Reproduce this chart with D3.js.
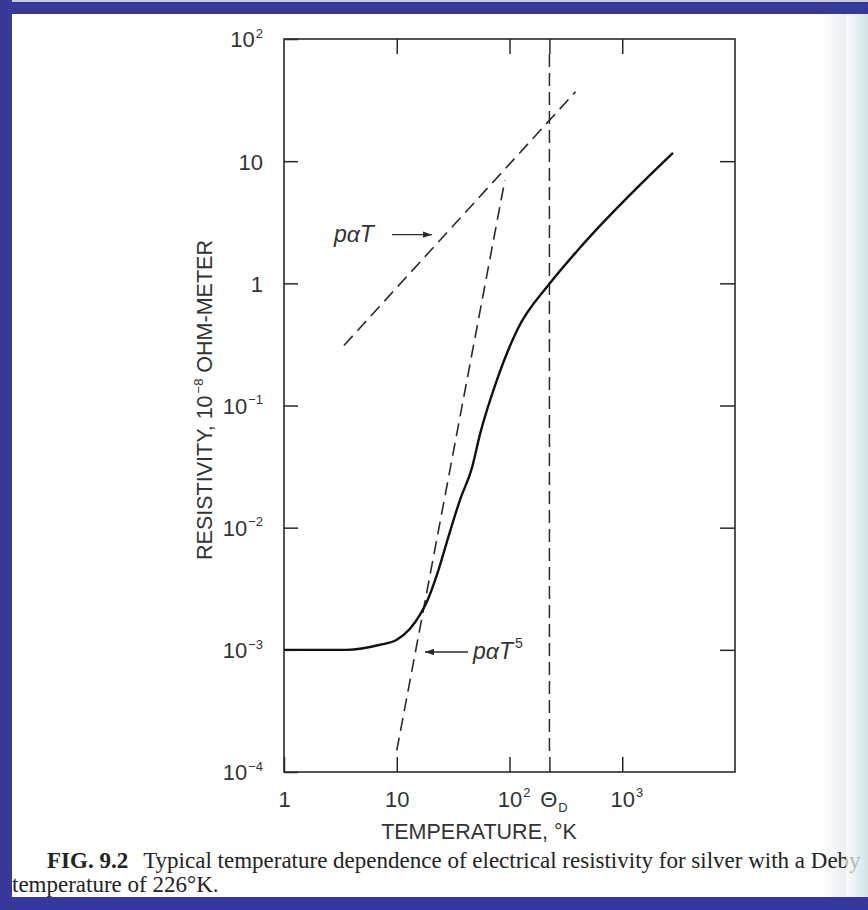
<!DOCTYPE html>
<html>
<head>
<meta charset="utf-8">
<script src="https://cdn.jsdelivr.net/npm/d3@7"></script>
<style>
  body { margin: 0; background: #fff; }
  svg { display: block; }
</style>
</head>
<body>
<svg id="fig" width="868" height="910"></svg>
<script>
// Resistivity of silver vs temperature (log-log)

// solid curve
const curveT   = [1, 3.6, 7.1, 10, 13.1, 16.1, 18.5, 22.7, 27.9, 36.4, 46.5, 54.7, 77.4, 117, 228, 400, 633, 1437, 2820];
const curveRho = [1.0e-3, 1.0e-3, 1.1e-3, 1.21e-3, 1.49e-3, 1.94e-3, 2.47e-3, 4.1e-3, 7.7e-3, 0.0169, 0.031, 0.058, 0.162, 0.415, 1.0, 1.85, 2.95, 6.4, 11.7];

// dashed asymptotes (end points)
const linearT   = [3.4, 385];
const linearRho = [0.31, 37];
const fifthT    = [10, 91];
const fifthRho  = [1.5e-4, 7.0];

const thetaD = 226;

// ticks
const xTickVals   = [1, 10, 100, thetaD, 1000];
const xTickLabels = [["1", ""], ["10", ""], ["10", "2"], ["\u0398", "D"], ["10", "3"]];
const yTickVals   = [1e2, 10, 1, 1e-1, 1e-2, 1e-3, 1e-4];
const yTickLabels = [["10", "2"], ["10", ""], ["1", ""], ["10", "\u22121"], ["10", "\u22122"], ["10", "\u22123"], ["10", "\u22124"]];

const svg = d3.select("#fig");
const W = 868, H = 910;
const blue = "#36399a";
const ink = "#2a2a2a";
const sans = "'Liberation Sans', Arial, sans-serif";

// page background + scan edge shading on the right
const defs = svg.append("defs");
const grad = defs.append("linearGradient").attr("id", "edge").attr("x1", 0).attr("x2", 1);
grad.append("stop").attr("offset", 0).attr("stop-color", "#ffffff");
grad.append("stop").attr("offset", 1).attr("stop-color", "#d4e3e8");
svg.append("rect").attr("width", W).attr("height", H).attr("fill", "#fff");
svg.append("rect").attr("x", 820).attr("y", 0).attr("width", W - 820).attr("height", H).attr("fill", "url(#edge)");

// blue frame (top, left)
svg.append("rect").attr("x", 0).attr("y", 0).attr("width", W).attr("height", 2).attr("fill", "#c9cbe3");
svg.append("rect").attr("x", 0).attr("y", 2).attr("width", W).attr("height", 12).attr("fill", blue);
svg.append("rect").attr("x", 0).attr("y", 0).attr("width", 12).attr("height", H).attr("fill", blue);

// plot box
const plot = { left: 284, right: 735, top: 39, bottom: 772 };

const x = d3.scaleLog().domain([1, 1e4]).range([plot.left, plot.right]);
const y = d3.scaleLog().domain([1e-4, 1e2]).range([plot.bottom, plot.top]);

const g = svg.append("g");

// frame
g.append("rect")
  .attr("x", plot.left).attr("y", plot.top)
  .attr("width", plot.right - plot.left).attr("height", plot.bottom - plot.top)
  .attr("fill", "none").attr("stroke", ink).attr("stroke-width", 1.6);

function styleAxis(sel) {
  sel.select(".domain").remove();
  sel.selectAll(".tick line").attr("stroke", ink).attr("stroke-width", 1.5);
  sel.selectAll(".tick text").attr("fill", "#333").attr("font-family", sans).attr("font-size", 22);
}

// label with superscript / subscript
function richLabel(sel, labels, anchor) {
  sel.selectAll(".tick text").each(function (d, i) {
    const t = d3.select(this).text(null).attr("text-anchor", anchor);
    const [base, ex] = labels[i];
    t.append("tspan").text(base);
    if (ex) {
      const sub = base === "\u0398";
      t.append("tspan")
        .attr("font-size", 13)
        .attr("dx", 1)
        .attr("dy", sub ? "0.45em" : "-0.75em")
        .text(ex);
    }
  });
}

// bottom axis (inward ticks)
const xBottom = g.append("g").attr("transform", `translate(0,${plot.bottom})`)
  .call(d3.axisBottom(x).tickValues(xTickVals).tickSize(-15).tickPadding(19).tickFormat(""));
styleAxis(xBottom);
richLabel(xBottom, xTickLabels, "middle");
xBottom.selectAll(".tick text").each(function (d) {
  // shift so the main glyph sits centered on the tick
  if (d === 100 || d === 1000 || d === thetaD) d3.select(this).attr("dx", 4);
});

// top axis, ticks only
const xTop = g.append("g").attr("transform", `translate(0,${plot.top})`)
  .call(d3.axisTop(x).tickValues(xTickVals.slice(1)).tickSize(-15).tickFormat(""));
styleAxis(xTop);

// left axis
const yLeft = g.append("g").attr("transform", `translate(${plot.left},0)`)
  .call(d3.axisLeft(y).tickValues(yTickVals).tickSize(-14).tickPadding(21).tickFormat(""));
styleAxis(yLeft);
richLabel(yLeft, yTickLabels, "end");
yLeft.selectAll(".tick text").attr("dy", "0.36em");

// right axis, ticks only
const yRight = g.append("g").attr("transform", `translate(${plot.right},0)`)
  .call(d3.axisRight(y).tickValues(yTickVals.slice(1, -1)).tickSize(-15).tickFormat(""));
styleAxis(yRight);

// axis titles
g.append("text")
  .attr("x", 479).attr("y", 839)
  .attr("text-anchor", "middle")
  .attr("font-family", sans).attr("font-size", 21.5).attr("fill", "#333")
  .text("TEMPERATURE, \u00b0K");

const yTitle = g.append("text")
  .attr("transform", "translate(212,400) rotate(-90)")
  .attr("text-anchor", "middle")
  .attr("font-family", sans).attr("font-size", 21.5).attr("fill", "#333");
yTitle.append("tspan").text("RESISTIVITY, 10");
yTitle.append("tspan").attr("font-size", 13).attr("dx", 2).attr("dy", "-0.7em").text("\u22128");
yTitle.append("tspan").attr("dy", "0.42em").text(" OHM-METER");

// curves
const line = d3.line().x(d => x(d[0])).y(d => y(d[1]));

// Debye temperature
g.append("line")
  .attr("x1", x(thetaD)).attr("x2", x(thetaD))
  .attr("y1", plot.top + 15).attr("y2", plot.bottom - 15)
  .attr("stroke", ink).attr("stroke-width", 1.5)
  .attr("stroke-dasharray", "13,6");

// rho ~ T
g.append("path")
  .datum(d3.zip(linearT, linearRho))
  .attr("d", line)
  .attr("fill", "none").attr("stroke", ink).attr("stroke-width", 1.6)
  .attr("stroke-dasharray", "13,7");

// rho ~ T^5
g.append("path")
  .datum(d3.zip(fifthT, fifthRho))
  .attr("d", line)
  .attr("fill", "none").attr("stroke", ink).attr("stroke-width", 1.6)
  .attr("stroke-dasharray", "13,7");

// measured curve
g.append("path")
  .datum(d3.zip(curveT, curveRho))
  .attr("d", line.curve(d3.curveMonotoneX))
  .attr("fill", "none").attr("stroke", "#111").attr("stroke-width", 2.4);

// annotations
defs.append("marker")
  .attr("id", "head").attr("viewBox", "0 0 10 10")
  .attr("refX", 10).attr("refY", 5)
  .attr("markerWidth", 9).attr("markerHeight", 9)
  .attr("markerUnits", "userSpaceOnUse")
  .attr("orient", "auto")
  .append("path").attr("d", "M0,1.5 L10,5 L0,8.5 Z").attr("fill", ink);

const notes = [
  { tip: [20.5, 2.5], dx: -40, text: "p\u03b1T", sup: "", tx: -98, ty: 7 },
  { tip: [17.8, 9.6e-4], dx: 43, text: "p\u03b1T", sup: "5", tx: 48, ty: 7 }
];
notes.forEach(n => {
  const px = x(n.tip[0]), py = y(n.tip[1]);
  g.append("line")
    .attr("x1", px + n.dx).attr("y1", py).attr("x2", px).attr("y2", py)
    .attr("stroke", ink).attr("stroke-width", 1.3)
    .attr("marker-end", "url(#head)");
  const t = g.append("text")
    .attr("x", px + n.tx).attr("y", py + n.ty)
    .attr("font-family", sans).attr("font-size", 23).attr("font-style", "italic")
    .attr("fill", "#333");
  t.append("tspan").text(n.text);
  if (n.sup) t.append("tspan").attr("font-size", 14).attr("font-style", "normal").attr("dx", 2).attr("dy", "-0.8em").text(n.sup);
});

// caption (first line runs off the scanned page edge, as in the scan)
const serif = "'Liberation Serif', 'Times New Roman', serif";
const cap1 = svg.append("text").attr("x", 47).attr("y", 868)
  .attr("font-family", serif).attr("font-size", 23).attr("fill", "#222");
cap1.append("tspan").attr("font-weight", "bold").text("FIG. 9.2");
cap1.append("tspan").attr("dx", 15).text("Typical temperature dependence of electrical resistivity for silver with a Deby");
svg.append("text").attr("x", 12).attr("y", 892)
  .attr("font-family", serif).attr("font-size", 23).attr("fill", "#222")
  .text("temperature of 226\u00b0K.");

// bottom band drawn last so descenders tuck under it
svg.append("rect").attr("x", 0).attr("y", 897).attr("width", W).attr("height", H - 897).attr("fill", blue);

// scan edge shading
svg.append("rect").attr("x", 846).attr("y", 14).attr("width", 22).attr("height", 883)
  .attr("fill", "url(#edge)").attr("opacity", 0.7);
</script>
</body>
</html>
